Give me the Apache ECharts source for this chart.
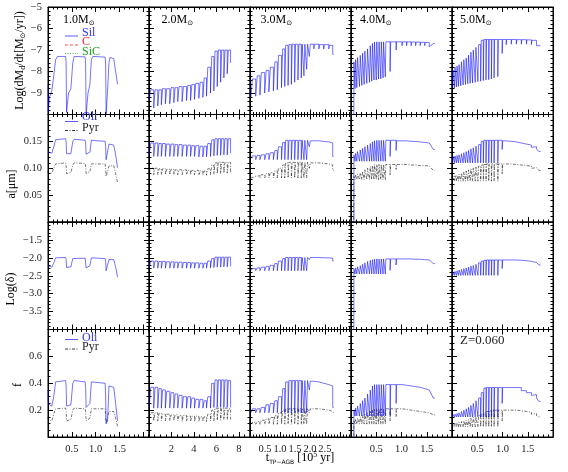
<!DOCTYPE html>
<html><head><meta charset="utf-8">
<script src="https://cdn.jsdelivr.net/npm/echarts/dist/echarts.min.js"></script>
<style>html,body{margin:0;padding:0;background:#fff}#c{width:568px;height:472px}</style>
</head><body><div id="c"></div>
<script>
// ---------- data ----------
const massLabels = ['1.0', '2.0', '3.0', '4.0', '5.0'];
const xTickLabels = [['0.5','1.0','1.5'], ['2','4','6','8'], ['0.5','1.0','1.5','2.0','2.5'], ['0.5','1.0','1.5'], ['0.5','1.0','1.5']];
const yTickLabels = [['−9','−8','−7','−6','−5'], ['0.05','0.10','0.15'], ['−1.5','−2.0','−2.5','−3.0','−3.5'], ['0.2','0.4','0.6']];

// 1.0 Msun (explicit time samples)
const t1  = [0, 0.005, 0.03, 0.08, 0.12, 0.16, 0.20, 0.37, 0.38, 0.39, 0.43, 0.48, 0.52, 0.55, 0.78, 0.79, 0.80, 0.84, 0.88, 0.91, 0.94, 1.20, 1.21, 1.22, 1.25, 1.28, 1.30, 1.38, 1.42, 1.46];
const dm1 = [-8.6, -9.9, -9.2, -8.9, -8.2, -7.45, -7.3, -7.3, -7.6, -9.9, -9.0, -8.8, -7.6, -7.3, -7.32, -7.7, -10.0, -9.0, -8.6, -7.45, -7.3, -7.33, -7.7, -10.0, -8.9, -7.6, -7.35, -7.4, -8.0, -8.6];
const aO1 = [0.130, 0.128, 0.128, 0.128, 0.140, 0.153, 0.155, 0.155, 0.150, 0.127, 0.126, 0.127, 0.150, 0.154, 0.152, 0.148, 0.126, 0.126, 0.130, 0.152, 0.153, 0.150, 0.140, 0.116, 0.118, 0.145, 0.147, 0.143, 0.125, 0.101];
const aP1 = [0.095, 0.091, 0.090, 0.091, 0.100, 0.108, 0.110, 0.110, 0.105, 0.090, 0.090, 0.092, 0.106, 0.110, 0.109, 0.104, 0.090, 0.090, 0.094, 0.108, 0.110, 0.108, 0.100, 0.085, 0.086, 0.104, 0.106, 0.105, 0.090, 0.073];
const dl1 = [-2.22, -2.25, -2.26, -2.26, -2.15, -2.00, -1.99, -1.99, -2.05, -2.27, -2.27, -2.25, -2.02, -1.99, -2.01, -2.05, -2.28, -2.27, -2.22, -2.00, -1.99, -2.02, -2.10, -2.36, -2.33, -2.05, -2.03, -2.05, -2.25, -2.54];
const fO1 = [0.35, 0.26, 0.24, 0.23, 0.30, 0.41, 0.42, 0.42, 0.38, 0.23, 0.23, 0.24, 0.40, 0.42, 0.41, 0.37, 0.22, 0.22, 0.25, 0.41, 0.42, 0.40, 0.30, 0.10, 0.12, 0.38, 0.39, 0.37, 0.25, 0.12];
const fP1 = [0.15, 0.13, 0.12, 0.12, 0.17, 0.21, 0.215, 0.215, 0.19, 0.12, 0.12, 0.13, 0.20, 0.215, 0.21, 0.19, 0.12, 0.12, 0.14, 0.21, 0.215, 0.21, 0.16, 0.10, 0.10, 0.19, 0.20, 0.19, 0.14, 0.08];

// 2.0 Msun: pulse times, recovery times, value after each pulse (lo) and before the next (hi)
const tp2 = [0.02, 0.42, 0.78, 1.10, 1.46, 1.85, 2.21, 2.56, 2.95, 3.34, 3.70, 4.05, 4.44, 4.80, 5.12, 5.48, 5.78, 6.08, 6.38, 6.67, 6.97, 7.27, 7.33];
const tk2 = [0.15, 0.54, 0.89, 1.21, 1.58, 1.97, 2.33, 2.68, 3.07, 3.46, 3.82, 4.17, 4.56, 4.92, 5.24, 5.59, 5.88, 6.18, 6.48, 6.77, 7.07, 7.30];
const dm2lo = [-9.3, -9.7, -9.6, -9.55, -9.5, -9.5, -9.45, -9.4, -9.4, -9.35, -9.35, -9.3, -9.25, -9.2, -9.15, -9.0, -8.9, -8.7, -8.5, -8.3, -8.1, -7.6];
const dm2hi = [-8.85, -8.85, -8.85, -8.8, -8.8, -8.75, -8.75, -8.7, -8.7, -8.65, -8.6, -8.55, -8.5, -8.3, -7.8, -7.3, -7.05, -7.0, -7.0, -7.0, -7.0, -7.6];
const aO2lo = [0.125, 0.122, 0.122, 0.122, 0.122, 0.122, 0.122, 0.122, 0.122, 0.122, 0.122, 0.122, 0.121, 0.121, 0.121, 0.122, 0.123, 0.124, 0.124, 0.125, 0.125, 0.128];
const aO2hi = [0.147, 0.147, 0.146, 0.146, 0.145, 0.145, 0.144, 0.144, 0.143, 0.143, 0.142, 0.142, 0.141, 0.141, 0.146, 0.153, 0.155, 0.155, 0.155, 0.155, 0.155, 0.128];
const aP2lo = [0.090, 0.088, 0.088, 0.088, 0.088, 0.088, 0.088, 0.088, 0.088, 0.088, 0.088, 0.088, 0.087, 0.087, 0.087, 0.088, 0.089, 0.090, 0.090, 0.091, 0.091, 0.092];
const aP2hi = [0.100, 0.100, 0.099, 0.099, 0.098, 0.098, 0.097, 0.097, 0.097, 0.096, 0.096, 0.096, 0.095, 0.095, 0.099, 0.106, 0.110, 0.111, 0.111, 0.111, 0.111, 0.094];
const dl2lo = [-2.27, -2.29, -2.29, -2.29, -2.29, -2.29, -2.29, -2.29, -2.29, -2.29, -2.29, -2.29, -2.29, -2.29, -2.29, -2.28, -2.27, -2.26, -2.26, -2.25, -2.25, -2.24];
const dl2hi = [-2.09, -2.09, -2.10, -2.10, -2.11, -2.11, -2.12, -2.12, -2.13, -2.13, -2.14, -2.14, -2.15, -2.15, -2.09, -2.02, -1.98, -1.98, -1.98, -1.98, -1.98, -2.24];
const fO2lo = [0.22, 0.215, 0.215, 0.215, 0.215, 0.215, 0.215, 0.215, 0.215, 0.215, 0.215, 0.215, 0.215, 0.215, 0.215, 0.215, 0.22, 0.22, 0.22, 0.22, 0.22, 0.22];
const fO2hi = [0.37, 0.37, 0.36, 0.35, 0.34, 0.33, 0.32, 0.31, 0.30, 0.30, 0.29, 0.28, 0.28, 0.27, 0.30, 0.40, 0.425, 0.425, 0.425, 0.425, 0.42, 0.22];
const fP2lo = [0.13, 0.12, 0.12, 0.12, 0.12, 0.12, 0.12, 0.12, 0.115, 0.115, 0.115, 0.115, 0.115, 0.115, 0.115, 0.12, 0.12, 0.125, 0.125, 0.13, 0.13, 0.13];
const fP2hi = [0.18, 0.18, 0.175, 0.17, 0.17, 0.165, 0.165, 0.16, 0.16, 0.155, 0.155, 0.155, 0.15, 0.15, 0.17, 0.20, 0.215, 0.215, 0.215, 0.215, 0.21, 0.13];

// 3.0 Msun
const tp3 = [0.03, 0.19, 0.33, 0.49, 0.63, 0.78, 0.91, 1.05, 1.16, 1.27, 1.38, 1.49, 1.60, 1.71, 1.80, 1.89, 1.98, 2.13, 2.30, 2.46, 2.63, 2.76, 2.79];
const tk3 = [0.08, 0.24, 0.38, 0.54, 0.68, 0.83, 0.95, 1.09, 1.19, 1.30, 1.41, 1.52, 1.63, 1.74, 1.83, 1.92, 2.01, 2.15, 2.32, 2.48, 2.65, 2.775];
const dm3lo = [-9.2, -9.15, -9.1, -9.0, -8.95, -8.9, -8.85, -8.75, -8.7, -8.65, -8.6, -8.5, -8.4, -8.3, -8.2, -7.9, -7.3, -6.95, -6.95, -6.95, -6.95, -7.2];
const dm3hi = [-8.35, -8.2, -8.05, -7.95, -7.8, -7.55, -7.25, -6.95, -6.78, -6.75, -6.73, -6.73, -6.73, -6.73, -6.73, -6.73, -6.73, -6.73, -6.75, -6.75, -6.78, -7.2];
const aO3lo = [0.118, 0.116, 0.116, 0.116, 0.116, 0.116, 0.116, 0.116, 0.116, 0.116, 0.116, 0.116, 0.116, 0.116, 0.116, 0.116, 0.140, 0.149, 0.149, 0.148, 0.147, 0.122];
const aO3hi = [0.123, 0.124, 0.125, 0.127, 0.129, 0.133, 0.140, 0.148, 0.152, 0.152, 0.152, 0.152, 0.152, 0.152, 0.152, 0.152, 0.151, 0.151, 0.150, 0.149, 0.147, 0.122];
const aP3lo = [0.082, 0.082, 0.082, 0.082, 0.082, 0.082, 0.082, 0.082, 0.082, 0.082, 0.082, 0.082, 0.082, 0.082, 0.082, 0.082, 0.100, 0.109, 0.109, 0.108, 0.106, 0.096];
const aP3hi = [0.085, 0.086, 0.088, 0.090, 0.092, 0.095, 0.100, 0.106, 0.110, 0.111, 0.111, 0.111, 0.111, 0.111, 0.111, 0.111, 0.110, 0.110, 0.109, 0.108, 0.106, 0.096];
const dl3lo = [-2.36, -2.36, -2.36, -2.36, -2.36, -2.36, -2.36, -2.36, -2.36, -2.36, -2.36, -2.36, -2.36, -2.36, -2.36, -2.36, -2.05, -2.0, -2.0, -2.01, -2.02, -2.09];
const dl3hi = [-2.30, -2.28, -2.26, -2.24, -2.21, -2.16, -2.09, -2.02, -1.99, -1.99, -1.99, -1.99, -1.99, -1.99, -1.99, -1.99, -1.99, -1.99, -2.0, -2.0, -2.01, -2.09];
const fO3lo = [0.18, 0.18, 0.18, 0.18, 0.18, 0.18, 0.18, 0.18, 0.18, 0.18, 0.18, 0.18, 0.18, 0.18, 0.18, 0.18, 0.35, 0.41, 0.40, 0.39, 0.38, 0.22];
const fO3hi = [0.21, 0.21, 0.22, 0.24, 0.25, 0.27, 0.30, 0.36, 0.41, 0.42, 0.42, 0.42, 0.42, 0.42, 0.42, 0.42, 0.415, 0.41, 0.40, 0.39, 0.38, 0.22];
const fP3lo = [0.095, 0.095, 0.095, 0.095, 0.095, 0.095, 0.095, 0.095, 0.095, 0.095, 0.095, 0.095, 0.095, 0.095, 0.095, 0.095, 0.18, 0.21, 0.205, 0.20, 0.19, 0.18];
const fP3hi = [0.11, 0.115, 0.125, 0.135, 0.145, 0.16, 0.18, 0.20, 0.21, 0.21, 0.21, 0.21, 0.21, 0.21, 0.21, 0.21, 0.21, 0.21, 0.205, 0.20, 0.19, 0.18];

// 4.0 Msun
const tp4 = [0.055, 0.08, 0.115, 0.168, 0.214, 0.26, 0.313, 0.366, 0.41, 0.455, 0.50, 0.545, 0.59, 0.635, 0.68, 0.774, 0.893, 1.01, 1.10, 1.19, 1.28, 1.37, 1.46, 1.55, 1.66];
const tk4 = [0.058, 0.092, 0.13, 0.183, 0.229, 0.275, 0.328, 0.381, 0.425, 0.465, 0.51, 0.555, 0.60, 0.645, 0.69, 0.785, 0.90, 1.02, 1.11, 1.20, 1.29, 1.38, 1.47, 1.63];
const dm4lo = [-12, -8.8, -8.75, -8.7, -8.65, -8.6, -8.55, -8.5, -8.45, -8.4, -8.4, -8.35, -8.35, -8.3, -8.25, -8.0, -7.0, -6.8, -6.8, -6.8, -6.8, -6.8, -6.8, -6.85];
const dm4hi = [-7.55, -7.45, -7.35, -7.25, -7.15, -7.05, -6.95, -6.8, -6.7, -6.63, -6.62, -6.62, -6.62, -6.62, -6.62, -6.62, -6.62, -6.62, -6.62, -6.63, -6.63, -6.64, -6.65, -6.7];
const aO4lo = [-0.1, 0.113, 0.113, 0.113, 0.113, 0.113, 0.113, 0.113, 0.113, 0.113, 0.113, 0.113, 0.113, 0.113, 0.113, 0.122, 0.133, 0.148, 0.148, 0.148, 0.147, 0.147, 0.146, 0.146];
const aO4hi = [0.125, 0.128, 0.131, 0.134, 0.137, 0.140, 0.143, 0.146, 0.149, 0.151, 0.152, 0.152, 0.152, 0.152, 0.152, 0.152, 0.151, 0.151, 0.150, 0.150, 0.149, 0.148, 0.147, 0.135];
const aP4lo = [-0.1, 0.079, 0.079, 0.079, 0.079, 0.079, 0.079, 0.079, 0.079, 0.079, 0.079, 0.079, 0.079, 0.079, 0.079, 0.088, 0.098, 0.106, 0.106, 0.106, 0.105, 0.105, 0.104, 0.104];
const aP4hi = [0.085, 0.087, 0.089, 0.091, 0.094, 0.097, 0.100, 0.103, 0.105, 0.107, 0.107, 0.107, 0.107, 0.107, 0.107, 0.107, 0.107, 0.107, 0.106, 0.106, 0.105, 0.105, 0.104, 0.096];
const dl4lo = [-5, -2.45, -2.45, -2.45, -2.45, -2.45, -2.45, -2.45, -2.45, -2.45, -2.45, -2.45, -2.45, -2.45, -2.45, -2.35, -2.2, -2.04, -2.04, -2.04, -2.05, -2.05, -2.06, -2.06];
const dl4hi = [-2.31, -2.28, -2.25, -2.22, -2.18, -2.14, -2.10, -2.07, -2.05, -2.04, -2.03, -2.03, -2.03, -2.03, -2.03, -2.03, -2.03, -2.03, -2.03, -2.04, -2.04, -2.05, -2.06, -2.16];
const fO4lo = [-0.2, 0.156, 0.156, 0.156, 0.156, 0.156, 0.156, 0.156, 0.156, 0.156, 0.156, 0.156, 0.156, 0.156, 0.156, 0.16, 0.25, 0.385, 0.385, 0.38, 0.375, 0.37, 0.36, 0.35];
const fO4hi = [0.20, 0.215, 0.23, 0.25, 0.27, 0.29, 0.32, 0.35, 0.38, 0.39, 0.39, 0.39, 0.39, 0.39, 0.39, 0.39, 0.39, 0.385, 0.38, 0.375, 0.37, 0.36, 0.35, 0.29];
const fP4lo = [-0.2, 0.096, 0.096, 0.096, 0.096, 0.096, 0.096, 0.096, 0.096, 0.096, 0.096, 0.096, 0.096, 0.096, 0.096, 0.12, 0.15, 0.205, 0.205, 0.20, 0.195, 0.19, 0.185, 0.18];
const fP4hi = [0.12, 0.13, 0.14, 0.15, 0.16, 0.17, 0.18, 0.19, 0.20, 0.205, 0.21, 0.21, 0.21, 0.21, 0.21, 0.21, 0.21, 0.205, 0.20, 0.195, 0.19, 0.185, 0.18, 0.165];

// 5.0 Msun
const tp5 = [0.007, 0.047, 0.087, 0.127, 0.173, 0.22, 0.267, 0.313, 0.36, 0.407, 0.46, 0.513, 0.567, 0.62, 0.673, 0.727, 0.78, 0.833, 0.907, 0.993, 1.073, 1.173, 1.273, 1.373, 1.473, 1.573, 1.673, 1.753];
const tk5 = [0.02, 0.06, 0.10, 0.14, 0.187, 0.234, 0.281, 0.327, 0.374, 0.421, 0.474, 0.527, 0.58, 0.632, 0.683, 0.737, 0.79, 0.843, 0.917, 1.003, 1.083, 1.183, 1.283, 1.383, 1.483, 1.583, 1.72];
const dm5lo = [-8.78, -8.76, -8.72, -8.69, -8.66, -8.63, -8.6, -8.57, -8.55, -8.53, -8.5, -8.47, -8.45, -8.42, -8.4, -8.38, -8.35, -8.3, -8.24, -7.16, -6.75, -6.73, -6.73, -6.73, -6.73, -6.75, -6.8];
const dm5hi = [-7.93, -7.8, -7.74, -7.68, -7.55, -7.45, -7.37, -7.24, -7.1, -7.0, -6.88, -6.75, -6.55, -6.51, -6.51, -6.51, -6.51, -6.51, -6.51, -6.51, -6.51, -6.51, -6.52, -6.52, -6.53, -6.55, -6.8];
const aO5lo = [0.110, 0.110, 0.110, 0.110, 0.110, 0.110, 0.110, 0.110, 0.110, 0.110, 0.110, 0.110, 0.110, 0.110, 0.110, 0.110, 0.110, 0.110, 0.110, 0.135, 0.149, 0.148, 0.146, 0.144, 0.142, 0.139, 0.136];
const aO5hi = [0.122, 0.123, 0.124, 0.125, 0.127, 0.129, 0.131, 0.133, 0.136, 0.138, 0.141, 0.144, 0.150, 0.152, 0.152, 0.152, 0.152, 0.152, 0.152, 0.151, 0.150, 0.149, 0.147, 0.145, 0.143, 0.140, 0.131];
const aP5lo = [0.076, 0.076, 0.076, 0.076, 0.076, 0.076, 0.076, 0.076, 0.076, 0.076, 0.076, 0.076, 0.076, 0.076, 0.076, 0.076, 0.076, 0.076, 0.076, 0.090, 0.107, 0.106, 0.105, 0.104, 0.103, 0.100, 0.098];
const aP5hi = [0.085, 0.086, 0.087, 0.089, 0.091, 0.093, 0.095, 0.097, 0.099, 0.100, 0.102, 0.104, 0.106, 0.107, 0.108, 0.108, 0.108, 0.108, 0.108, 0.108, 0.108, 0.107, 0.106, 0.105, 0.104, 0.101, 0.096];
const dl5lo = [-2.49, -2.49, -2.49, -2.49, -2.49, -2.49, -2.49, -2.49, -2.49, -2.49, -2.49, -2.49, -2.49, -2.49, -2.49, -2.49, -2.49, -2.49, -2.49, -2.30, -2.06, -2.07, -2.08, -2.09, -2.11, -2.13, -2.16];
const dl5hi = [-2.40, -2.38, -2.36, -2.34, -2.32, -2.30, -2.28, -2.26, -2.23, -2.21, -2.18, -2.14, -2.09, -2.07, -2.06, -2.06, -2.06, -2.06, -2.06, -2.06, -2.06, -2.06, -2.07, -2.08, -2.10, -2.13, -2.20];
const fO5lo = [0.149, 0.149, 0.149, 0.149, 0.149, 0.149, 0.149, 0.149, 0.149, 0.149, 0.149, 0.149, 0.149, 0.149, 0.149, 0.149, 0.149, 0.149, 0.149, 0.25, 0.365, 0.365, 0.365, 0.345, 0.33, 0.31, 0.29];
const fO5hi = [0.168, 0.17, 0.175, 0.18, 0.19, 0.20, 0.21, 0.22, 0.235, 0.25, 0.27, 0.29, 0.33, 0.365, 0.368, 0.368, 0.368, 0.368, 0.368, 0.368, 0.368, 0.368, 0.368, 0.345, 0.33, 0.315, 0.265];
const fP5lo = [0.075, 0.075, 0.075, 0.075, 0.075, 0.075, 0.075, 0.075, 0.075, 0.075, 0.075, 0.075, 0.075, 0.075, 0.075, 0.075, 0.075, 0.075, 0.075, 0.12, 0.195, 0.195, 0.19, 0.185, 0.18, 0.17, 0.16];
const fP5hi = [0.095, 0.10, 0.105, 0.11, 0.115, 0.12, 0.125, 0.13, 0.14, 0.145, 0.15, 0.16, 0.17, 0.18, 0.19, 0.195, 0.20, 0.20, 0.20, 0.20, 0.20, 0.20, 0.195, 0.19, 0.185, 0.175, 0.15];

// ---------- helpers ----------
function zip(t, v) { return t.map((x, i) => [x, v[i]]); }
// one cycle = drop to lo at pulse time, recovered to hi at recovery time, hold until the next pulse
function cyc(tp, tk, lo, hi) {
  const out = [];
  for (let i = 0; i < lo.length; i++) { out.push([tp[i], lo[i]]); out.push([tk[i], hi[i]]); out.push([tp[i + 1], hi[i]]); }
  return out;
}
const M = [
  { dm: zip(t1, dm1), aO: zip(t1, aO1), aP: zip(t1, aP1), dl: zip(t1, dl1), fO: zip(t1, fO1), fP: zip(t1, fP1) },
  { dm: cyc(tp2, tk2, dm2lo, dm2hi), aO: cyc(tp2, tk2, aO2lo, aO2hi), aP: cyc(tp2, tk2, aP2lo, aP2hi), dl: cyc(tp2, tk2, dl2lo, dl2hi), fO: cyc(tp2, tk2, fO2lo, fO2hi), fP: cyc(tp2, tk2, fP2lo, fP2hi) },
  { dm: cyc(tp3, tk3, dm3lo, dm3hi), aO: cyc(tp3, tk3, aO3lo, aO3hi), aP: cyc(tp3, tk3, aP3lo, aP3hi), dl: cyc(tp3, tk3, dl3lo, dl3hi), fO: cyc(tp3, tk3, fO3lo, fO3hi), fP: cyc(tp3, tk3, fP3lo, fP3hi) },
  { dm: cyc(tp4, tk4, dm4lo, dm4hi), aO: cyc(tp4, tk4, aO4lo, aO4hi), aP: cyc(tp4, tk4, aP4lo, aP4hi), dl: cyc(tp4, tk4, dl4lo, dl4hi), fO: cyc(tp4, tk4, fO4lo, fO4hi), fP: cyc(tp4, tk4, fP4lo, fP4hi) },
  { dm: cyc(tp5, tk5, dm5lo, dm5hi), aO: cyc(tp5, tk5, aO5lo, aO5hi), aP: cyc(tp5, tk5, aP5lo, aP5hi), dl: cyc(tp5, tk5, dl5lo, dl5hi), fO: cyc(tp5, tk5, fO5lo, fO5hi), fP: cyc(tp5, tk5, fP5lo, fP5hi) }
];

// ---------- layout ----------
const FONT = 'Liberation Serif';
const TXT = '#222';
const COLS = [48, 149, 250, 351, 452], COLW = 101;
const ROWS = [7, 114.5, 222, 329.5], ROWH = 107.5;
const xRange = [[0, 2.12, 0.5, 5, 1], [0, 9, 2, 4, 0], [0, 3.37, 0.5, 5, 1], [0, 2, 0.5, 5, 1], [0, 2, 0.5, 5, 1]];
const yRange = [[-10, -5, 1, 5, 0], [0, 0.2, 0.05, 5, 2], [-4, -1, 0.5, 5, 1], [0, 0.8, 0.2, 4, 1]];

function fmt(list, dec) {
  return function (v) { const s = v.toFixed(dec).replace('-', '−'); return list.indexOf(s) >= 0 ? s : ''; };
}
const grid = [], xAxis = [], yAxis = [], series = [];
const tickStyle = { color: '#000', width: 1 };
for (let r = 0; r < 4; r++) for (let c = 0; c < 5; c++) {
  grid.push({ left: COLS[c], top: ROWS[r], width: COLW, height: ROWH, show: true, borderColor: '#000', borderWidth: 1 });
}
for (let pass = 0; pass < 2; pass++) {
  for (let r = 0; r < 4; r++) for (let c = 0; c < 5; c++) {
    const g = r * 5 + c, xr = xRange[c], yr = yRange[r];
    xAxis.push({
      gridIndex: g, type: 'value', min: xr[0], max: xr[1], interval: xr[2], position: pass ? 'top' : 'bottom',
      axisLine: { show: true, onZero: false, lineStyle: tickStyle },
      axisTick: { show: true, inside: true, length: 5, lineStyle: tickStyle },
      minorTick: { show: true, splitNumber: xr[3], length: 2.5, lineStyle: tickStyle },
      splitLine: { show: false },
      axisLabel: { show: !pass && r === 3, formatter: fmt(xTickLabels[c], xr[4]), margin: 7, fontFamily: FONT, fontSize: 10.5, color: TXT, showMinLabel: true, showMaxLabel: true }
    });
    yAxis.push({
      gridIndex: g, type: 'value', min: yr[0], max: yr[1], interval: yr[2], position: pass ? 'right' : 'left',
      axisLine: { show: true, onZero: false, lineStyle: tickStyle },
      axisTick: { show: true, inside: true, length: 5, lineStyle: tickStyle },
      minorTick: { show: true, splitNumber: yr[3], length: 2.5, lineStyle: tickStyle },
      splitLine: { show: false },
      axisLabel: { show: !pass && c === 0, formatter: fmt(yTickLabels[r], yr[4]), margin: 6, fontFamily: FONT, fontSize: 10.5, color: TXT, showMinLabel: true, showMaxLabel: true }
    });
  }
}
const BLUE = { color: '#0000ff', width: 0.55 };
const BLACK = { color: '#000000', width: 0.55, type: [3, 1.5, 1, 1.5] };
function add(r, c, data, ls) {
  series.push({ type: 'line', xAxisIndex: r * 5 + c, yAxisIndex: r * 5 + c, data: data, showSymbol: false, symbol: 'none',
    lineStyle: ls, itemStyle: { color: ls.color }, silent: true, clip: true, animation: false });
}
for (let c = 0; c < 5; c++) {
  const m = M[c];
  add(0, c, m.dm, BLUE);
  add(1, c, m.aP, BLACK); add(1, c, m.aO, BLUE);
  add(2, c, m.dl, BLUE);
  add(3, c, m.fP, BLACK); add(3, c, m.fO, BLUE);
}

// ---------- annotations ----------
const gfx = [];
function txt(x, y, text, opts) {
  gfx.push(Object.assign({ type: 'text', x: x, y: y, z: 100, style: Object.assign({ text: text, fill: TXT, font: '12px "' + FONT + '"', align: 'left', verticalAlign: 'middle' }, opts && opts.style) }, opts && opts.el));
}
function seg(x1, x2, y, stroke, dash) {
  gfx.push({ type: 'line', z: 100, shape: { x1: x1, y1: y, x2: x2, y2: y }, style: { stroke: stroke, lineWidth: 0.8, lineDash: dash || null } });
}
const msunRich = { a: { fontFamily: FONT, fontSize: 12, color: TXT, lineHeight: 14, verticalAlign: 'middle' }, s: { fontFamily: 'DejaVu Sans', fontSize: 7, color: TXT, lineHeight: 14, verticalAlign: 'bottom' } };
const massX = [63, 161.5, 260.5, 360, 460];
massLabels.forEach((ml, i) => {
  gfx.push({ type: 'text', x: massX[i], y: 20, z: 100, style: { text: '{a|' + ml + 'M}{s|⊙}', rich: msunRich, align: 'left', verticalAlign: 'middle' } });
});
// legend row 1
seg(65, 78, 36, '#3030ff'); txt(82, 33, 'Sil', { style: { fill: '#3030ff' } });
seg(65, 78, 45, '#ff2020', [3, 2]); txt(82, 42, 'C', { style: { fill: '#ff2020' } });
seg(65, 78, 53.5, '#20a020', [1, 1.5]); txt(82, 51.5, 'SiC', { style: { fill: '#20a020' } });
// legend row 2
seg(65, 78, 121.5, '#3030ff'); txt(82, 117, 'Oli', { style: { fill: '#3030ff' } });
seg(65, 78, 130.5, '#000', [3, 1.5, 1, 1.5]); txt(82, 128, 'Pyr');
// legend row 4
seg(65, 78, 339.5, '#3030ff'); txt(82, 338, 'Oli', { style: { fill: '#3030ff' } });
seg(65, 78, 349, '#000', [3, 1.5, 1, 1.5]); txt(82, 346.5, 'Pyr');
// Z label
txt(460, 341, 'Z=0.060', { style: { font: '13px "' + FONT + '"' } });
// y titles
const yt = { a: { fontFamily: FONT, fontSize: 12, color: TXT, lineHeight: 14, verticalAlign: 'middle' }, s: { fontFamily: FONT, fontSize: 8, color: TXT, lineHeight: 14, verticalAlign: 'bottom' }, o: { fontFamily: 'DejaVu Sans', fontSize: 7, color: TXT, lineHeight: 14, verticalAlign: 'bottom' } };
function ytitle(x, y, rich) {
  gfx.push({ type: 'text', x: x, y: y, rotation: Math.PI / 2, z: 100, style: { text: rich, rich: yt, align: 'center', verticalAlign: 'middle' } });
}
ytitle(20, 60.5, '{a|Log(dM}{s|d}{a|/dt[M}{o|⊙}{a|/yr])}');
ytitle(12, 184, '{a|a[μm]}');
ytitle(11, 289, '{a|Log(δ)}');
ytitle(18, 385, '{a|f}');
// x title
gfx.push({ type: 'text', x: 300, y: 458, z: 100, style: { text: '{a|t}{s|TP−AGB}{a| [10}{p|5}{a| yr]}', align: 'center', verticalAlign: 'middle',
  rich: { a: { fontFamily: FONT, fontSize: 12, color: TXT, lineHeight: 14, verticalAlign: 'middle' }, s: { fontFamily: 'DejaVu Sans', fontSize: 6, color: TXT, lineHeight: 14, verticalAlign: 'bottom' }, p: { fontFamily: FONT, fontSize: 8, color: TXT, lineHeight: 14, verticalAlign: 'top' } } } });

const chart = echarts.init(document.getElementById('c'), null, { renderer: 'canvas' });
chart.setOption({ animation: false, backgroundColor: '#fff', grid, xAxis, yAxis, series, graphic: gfx });
</script></body></html>
